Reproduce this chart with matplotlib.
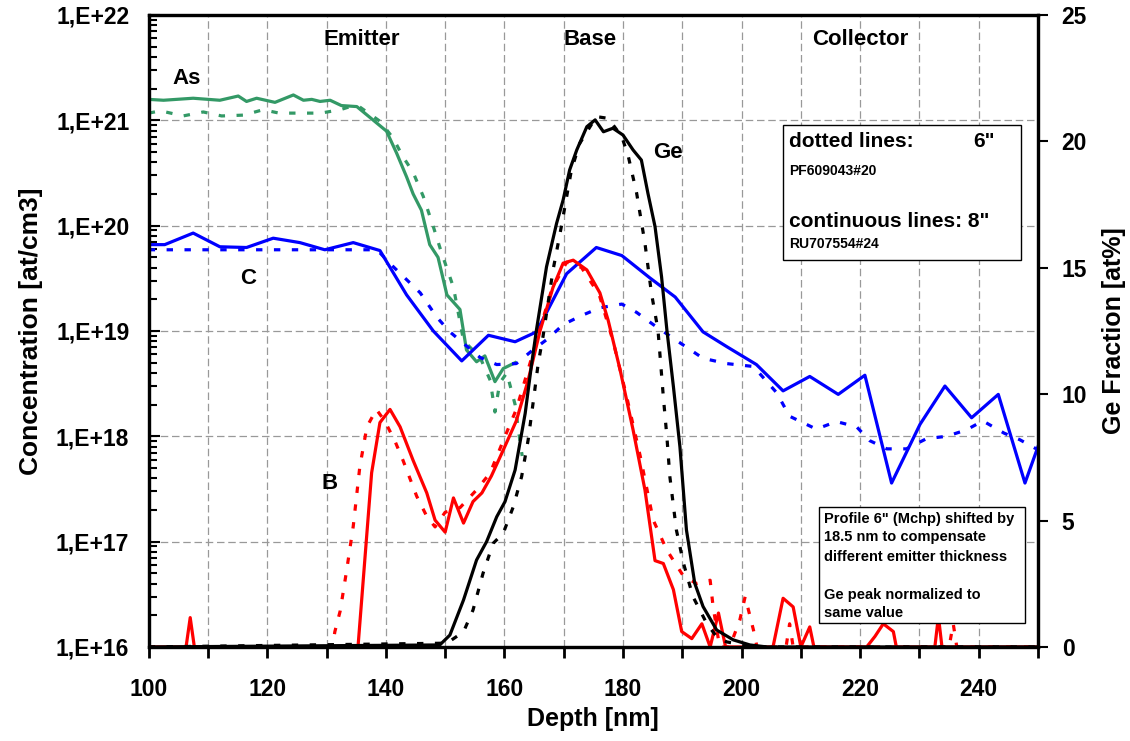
import numpy as np
import matplotlib
matplotlib.use("Agg")
import matplotlib.pyplot as plt
from matplotlib.ticker import MultipleLocator, FixedLocator, FuncFormatter, LogLocator
from matplotlib.patches import Rectangle

plt.rcParams["font.family"] = ["Liberation Sans", "DejaVu Sans"]
plt.rcParams["font.weight"] = "bold"

# ── data (depth in nm) ──────────────────────────────────────────────────────
as8_x = [100, 102.5, 107.5, 112, 115.1, 116.5, 118.2, 121.3, 124.4, 126.1, 127.5, 128.9, 130.6,
         132.5, 135.1, 137.9, 140.1, 141.8, 143.5, 144.6, 146.0, 147.4, 148.8, 150.3, 152.5,
         153.6, 155.3, 156.7, 158.4, 159.8, 161.8]
as8_y = [1.58e21, 1.55e21, 1.62e21, 1.55e21, 1.70e21, 1.51e21, 1.62e21, 1.48e21, 1.74e21, 1.55e21,
         1.58e21, 1.51e21, 1.55e21, 1.38e21, 1.35e21, 1.0e21, 7.9e20, 4.9e20, 2.9e20, 2.0e20,
         1.4e20, 6.6e19, 5.0e19, 2.2e19, 1.6e19, 6.6e18, 5.1e18, 5.8e18, 3.3e18, 4.4e18, 5.0e18]

as6_x = [100, 102, 105.8, 109.2, 112.3, 116, 119.3, 122, 125.6, 129, 132.3, 134, 135.5, 139, 141.2,
         142.9, 144.6, 146.3, 148, 149.4, 151.4, 153.1, 155.9, 157.6, 158.4, 159.2, 160.4, 161.8,
         162.6, 163]
as6_y = [1.17e21, 1.23e21, 1.10e21, 1.20e21, 1.10e21, 1.12e21, 1.26e21, 1.17e21, 1.17e21, 1.17e21,
         1.26e21, 1.35e21, 1.35e21, 9.8e20, 6.8e20, 4.5e20, 3.2e20, 1.9e20, 9.8e19, 5.5e19,
         2.6e19, 8.1e18, 5.6e18, 3.4e18, 1.7e18, 3.2e18, 4.0e18, 2.0e18, 9.1e17, 6.5e17]

c8_x = [100, 102.7, 107.5, 112, 116.5, 121, 125.5, 129.7, 134.5, 139, 143.5, 148, 152.8, 157.3,
        161.8, 165.4, 170.5, 175.5, 179.8, 184.5, 188.8, 193.5, 197.5, 202.5, 207, 211.5, 216.3,
        220.8, 225.3, 230.1, 234.3, 238.8, 243.3, 247.8, 250.3]
c8_y = [6.6e19, 6.6e19, 8.5e19, 6.3e19, 6.2e19, 7.6e19, 6.9e19, 5.9e19, 6.9e19, 5.8e19, 2.2e19,
        1.0e19, 5.2e18, 9.1e18, 7.9e18, 9.8e18, 3.5e19, 6.2e19, 5.2e19, 3.2e19, 2.1e19, 9.8e18,
        7.1e18, 4.8e18, 2.7e18, 3.7e18, 2.5e18, 3.8e18, 3.6e17, 1.3e18, 3.0e18, 1.5e18, 2.5e18,
        3.6e17, 8.9e17]

c6_x = [100, 105, 110, 115, 120, 125, 130, 134, 138.5, 141.2, 145.8, 148.6, 150.8, 155.9, 158.7,
        162, 164.8, 167.4, 169.9, 173, 176.1, 179.8, 182.3, 185.1, 188.5, 193.5, 197.5, 202,
        205.9, 208.1, 212.6, 216, 219.4, 221.6, 224.5, 227.8, 231.2, 234.6, 237.9, 240.7, 244.3,
        246.9, 249.7]
c6_y = [5.9e19, 5.9e19, 5.9e19, 5.9e19, 5.9e19, 5.9e19, 5.9e19, 5.9e19, 5.9e19, 4.1e19, 2.3e19,
        1.35e19, 9.8e18, 5.6e18, 4.8e18, 4.9e18, 6.6e18, 8.5e18, 1.15e19, 1.4e19, 1.66e19, 1.8e19,
        1.5e19, 1.15e19, 8.5e18, 5.5e18, 4.9e18, 4.6e18, 2.6e18, 1.55e18, 1.17e18, 1.38e18,
        1.23e18, 9.1e17, 7.6e17, 7.6e17, 9.5e17, 1.0e18, 1.15e18, 1.4e18, 1.07e18, 9.3e17, 7.6e17]

b8_x = [100, 106.3, 107, 107.7, 135.3, 137.6, 139, 140.7, 142.4, 144.6, 146.9, 148.3, 150, 151.4,
        153.1, 154.7, 156.2, 157.8, 159.8, 162, 164, 166, 168.2, 169.9, 171.6, 173.9, 176.1, 177.5,
        179.5, 181.7, 183.7, 185.4, 186.8, 188.5, 189.9, 191.6, 193.3, 194.7, 196.1, 197.3, 205.3,
        207, 208.7, 210, 211.5, 212.2, 221.1, 222.5, 223.9, 225.6, 226.1, 232.6, 233.2, 233.8, 250]
b8_y = [1e16, 1e16, 1.9e16, 1e16, 1e16, 4.5e17, 1.35e18, 1.8e18, 1.23e18, 5.9e17, 2.9e17, 1.6e17,
        1.23e17, 2.6e17, 1.5e17, 2.4e17, 2.9e17, 4.2e17, 7.4e17, 1.4e18, 3.4e18, 1.0e19, 2.6e19,
        4.4e19, 4.7e19, 3.8e19, 2.3e19, 1.26e19, 4.3e18, 1.15e18, 3.1e17, 6.6e16, 6.2e16, 3.5e16,
        1.4e16, 1.2e16, 1.66e16, 1e16, 2.1e16, 1e16, 1e16, 2.9e16, 2.4e16, 1e16, 1.55e16, 1e16,
        1e16, 1.26e16, 1.66e16, 1.4e16, 1e16, 1e16, 1.95e16, 1e16, 1e16]

b6_x = [100, 131, 131.4, 132.3, 133.4, 134.5, 135.6, 136.8, 138.4, 139.8, 141.5, 142.9, 145.2,
        146.9, 148.3, 150, 152.5, 155.3, 157.6, 159.8, 162, 164.3, 165.4, 168, 170.5, 173, 176,
        178.3, 180.6, 182.9, 185.1, 187.4, 190.2, 192.4, 194.7, 195.2, 196.3, 198, 199.7, 200.6,
        202, 202.6, 207.5, 208.1, 208.7, 226, 226.7, 227.3, 235, 235.7, 236.3, 250]
b6_y = [1e16, 1e16, 1.4e16, 2.2e16, 5.4e16, 1.4e17, 5.1e17, 1.23e18, 1.8e18, 1.4e18, 9.1e17,
        5.9e17, 2.7e17, 1.74e17, 1.38e17, 1.9e17, 2.1e17, 3.1e17, 4.5e17, 9.1e17, 1.8e18, 4.9e18,
        8.1e18, 2.5e19, 4.5e19, 4.0e19, 2.2e19, 8.1e18, 2.4e18, 6.5e17, 1.6e17, 8.3e16, 4.7e16,
        4.0e16, 4.3e16, 2.4e16, 1e16, 1e16, 1.8e16, 3.0e16, 1.45e16, 1e16, 1e16, 1.66e16, 1e16,
        1e16, 1.15e16, 1e16, 1e16, 1.66e16, 1e16, 1e16]

ge8_x = [100, 149.1, 150.8, 153.1, 155.3, 157, 158.7, 160.1, 161.8, 163.5, 164.6, 165.4, 167.1,
         168.8, 169.9, 171.0, 172.2, 173.9, 175.3, 176.7, 178.3, 180.0, 181.7, 183.1, 184.2, 185.4,
         186.5, 187.4, 188.5, 189.6, 190.7, 192.1, 193.5, 195.8, 198.6, 201.4, 204.3, 250]
ge8_y = [0, 0.08, 0.47, 1.86, 3.44, 4.17, 5.15, 5.75, 7.0, 9.24, 11.22, 12.54, 15.04, 16.76, 17.68,
         18.87, 19.66, 20.58, 20.85, 20.38, 20.52, 20.25, 19.66, 19.26, 17.95, 16.63, 14.65, 12.54,
         10.3, 7.92, 4.63, 2.52, 1.6, 0.67, 0.28, 0.08, 0, 0]

ge6_x = [100, 150.3, 153.1, 154.7, 156.4, 158.1, 159.8, 161.5, 162.9, 164, 164.9, 165.7, 166.5,
         168.2, 169.6, 171.3, 172.7, 175.5, 177.5, 179.8, 180.9, 182.3, 183.7, 184.8, 185.9, 186.8,
         187.4, 187.9, 189, 190.2, 191.8, 194.1, 195.8, 197.5, 200.3, 203, 250]
ge6_y = [0, 0.15, 0.6, 1.46, 2.92, 4.1, 4.5, 5.55, 6.74, 8.19, 9.77, 11.22, 12.27, 14.91, 16.63,
         18.87, 19.92, 20.98, 20.91, 20.19, 19.4, 17.95, 15.97, 13.99, 12.54, 9.9, 8.32, 6.74, 4.63,
         3.31, 1.99, 0.94, 0.4, 0.2, 0.08, 0, 0]

decades = [1e16, 1e17, 1e18, 1e19, 1e20, 1e21, 1e22]

GREEN = "#339966"
BLUE = "#0000ff"
RED = "#ff0000"
DOT = (0, (2.0, 3.6))
LW = 2.3

fig = plt.figure(figsize=(11.3, 7.41), dpi=100)
ax = fig.add_axes([0.1316, 0.1269, 0.787, 0.8529])
ax2 = ax.twinx()

# ── concentration profiles (left, log) ───────────────────────────────────────
ax.plot(as8_x, as8_y, color=GREEN, lw=LW)
ax.plot(as6_x, as6_y, color=GREEN, lw=LW, ls=DOT)
ax.plot(c8_x, c8_y, color=BLUE, lw=LW)
ax.plot(c6_x, c6_y, color=BLUE, lw=LW, ls=DOT)
ax.plot(b8_x, b8_y, color=RED, lw=LW)
ax.plot(b6_x, b6_y, color=RED, lw=LW, ls=DOT)

ax.set_yscale("log")
ax.set_xlim(100, 250)
ax.set_ylim(1e16, 1e22)
ax.yaxis.set_major_locator(FixedLocator(decades))
ax.yaxis.set_major_formatter(FuncFormatter(lambda v, p: "1,E+%d" % round(np.log10(v))))
ax.yaxis.set_minor_locator(LogLocator(base=10, subs=np.arange(2, 10), numticks=20))
ax.yaxis.set_minor_formatter(FuncFormatter(lambda v, p: ""))
ax.xaxis.set_major_locator(MultipleLocator(20))
ax.xaxis.set_minor_locator(MultipleLocator(10))

ax.grid(True, which="major", axis="y", color="#999999", ls=(0, (6, 3)), lw=0.9)
ax.grid(True, which="both", axis="x", color="#999999", ls=(0, (6, 3)), lw=0.9)

ax.tick_params(axis="y", which="both", direction="in", labelsize=16.5, pad=14, width=1.5)
ax.tick_params(axis="y", which="major", length=8)
ax.tick_params(axis="y", which="minor", length=6)
ax.tick_params(axis="x", which="both", direction="out", length=8, width=2, labelsize=16.5, pad=14)

ax.set_xlabel("Depth [nm]", fontsize=18, fontweight="bold")
ax.set_ylabel("Concentration [at/cm3]", fontsize=19, fontweight="bold")
ax.xaxis.set_label_coords(0.5, -0.095)
ax.yaxis.set_label_coords(-0.119, 0.5)

# ── Ge fraction (right, linear) ──────────────────────────────────────────────
ax2.plot(ge8_x, ge8_y, color="black", lw=LW)
ax2.plot(ge6_x, ge6_y, color="black", lw=LW, ls=DOT)
ax2.set_ylim(0, 25)
ax2.yaxis.set_major_locator(MultipleLocator(5))
ax2.tick_params(axis="y", direction="out", length=7, width=1.5, labelsize=16.5, pad=10)
ax2.set_ylabel("Ge Fraction [at%]", fontsize=18, fontweight="bold")
ax2.yaxis.set_label_coords(1.072, 0.5)

for a in (ax, ax2):
    for s in a.spines.values():
        s.set_linewidth(2.3)

# ── annotations ──────────────────────────────────────────────────────────────
for txt, xf in [("Emitter", 0.2398), ("Base", 0.4963), ("Collector", 0.80)]:
    ax2.text(xf, 0.9604, txt, transform=ax.transAxes, ha="center", va="center",
             fontsize=16, fontweight="bold")
for txt, xf, yf in [("As", 0.0431, 0.8987), ("C", 0.1117, 0.5823),
                    ("B", 0.2039, 0.2579), ("Ge", 0.584, 0.7816)]:
    ax2.text(xf, yf, txt, transform=ax.transAxes, ha="center", va="center",
             fontsize=16, fontweight="bold")

ax2.add_patch(Rectangle((0.7136, 0.6123), 0.267, 0.2137, transform=ax.transAxes,
                        facecolor="white", edgecolor="black", lw=1, zorder=10))
ax2.text(0.7204, 0.7995, "dotted lines:", transform=ax.transAxes, ha="left", va="center",
         fontsize=15, fontweight="bold", zorder=11)
ax2.text(0.9517, 0.7995, '6"', transform=ax.transAxes, ha="right", va="center",
         fontsize=15, fontweight="bold", zorder=11)
ax2.text(0.7204, 0.753, "PF609043#20", transform=ax.transAxes, ha="left", va="center",
         fontsize=10, fontweight="bold", zorder=11)
ax2.text(0.7204, 0.6725, 'continuous lines: 8"', transform=ax.transAxes, ha="left",
         va="center", fontsize=15, fontweight="bold", zorder=11)
ax2.text(0.7204, 0.6377, "RU707554#24", transform=ax.transAxes, ha="left", va="center",
         fontsize=10, fontweight="bold", zorder=11)

ax2.add_patch(Rectangle((0.754, 0.0375), 0.231, 0.1835, transform=ax.transAxes,
                        facecolor="white", edgecolor="black", lw=1, zorder=10))
note = ['Profile 6" (Mchp) shifted by', "18.5 nm to compensate",
        "different emitter thickness", "Ge peak normalized to", "same value"]
for line, yf in zip(note, [0.2025, 0.1736, 0.1429, 0.0823, 0.0533]):
    ax2.text(0.7594, yf, line, transform=ax.transAxes, ha="left", va="center",
             fontsize=10.5, fontweight="bold", zorder=11)

fig.savefig("out.png", dpi=100)
